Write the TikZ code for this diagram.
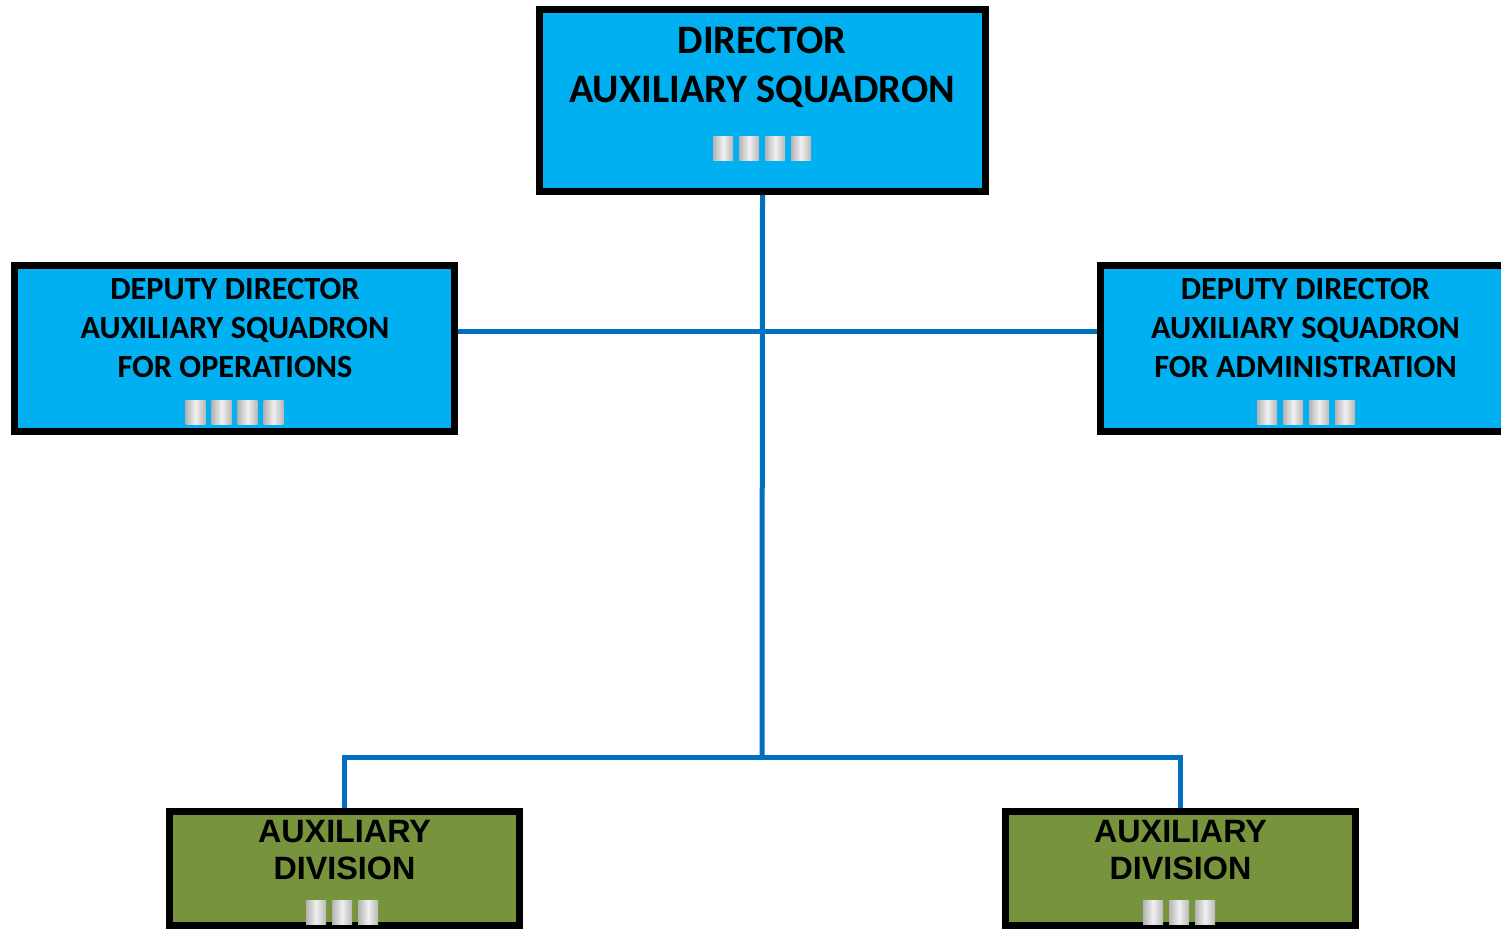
\documentclass[tikz,border=0pt]{standalone}
\usepackage{fontspec}
\setmainfont{Carlito}
\newfontfamily\arialfont{Liberation Sans}
\usepackage{xcolor}
\usetikzlibrary{positioning, calc}

\definecolor{boxblue}{HTML}{00B0F0}
\definecolor{boxgreen}{HTML}{77933C}
\definecolor{linkblue}{HTML}{0070C0}

\tikzset{
  office/.style={draw=black, line width=7pt, fill=boxblue, minimum width=#1, minimum height=166pt, inner sep=0pt},
  division/.style={draw=black, line width=7pt, fill=boxgreen, minimum width=350pt, minimum height=114pt, inner sep=0pt},
  link/.style={draw=linkblue, line width=5pt},
  barshade/.style={left color=black!30, right color=black!28, middle color=black!6}
}

% silver rank bars: #1 count, #2 centre x, #3 centre y
\newcommand{\rankbars}[3]{%
  \pgfmathsetmacro{\startx}{#2-(#1*26-6)/2}
  \foreach \i in {1,...,#1} {
    \pgfmathsetmacro{\bx}{\startx+(\i-1)*26}
    \shade[barshade] (\bx,#3-12) rectangle ++(20,24);
  }
}

\begin{document}
\begin{tikzpicture}[x=1pt, y=-1pt]
\useasboundingbox (0,0) rectangle (1501,929);

% Director
\node[office=446pt, minimum height=182pt] (director) at (762.5,100.5) {};
\node[font=\bfseries\fontsize{40.4}{49}\selectfont, align=center] (directortxt) at (762,67) {DIRECTOR\\AUXILIARY SQUADRON};
\rankbars{4}{762}{148}

% Deputies
\node[office=440pt] (depops) at (234,348) {};
\node[font=\bfseries\fontsize{32.3}{39}\selectfont, align=center] (depopstxt) at (235,328) {DEPUTY DIRECTOR\\AUXILIARY SQUADRON\\FOR OPERATIONS};
\rankbars{4}{234.5}{412}

\node[office=420pt] (depadmin) at (1310,348) {};
\node[font=\bfseries\fontsize{32.3}{39}\selectfont, align=center] (depadmintxt) at (1305.5,328) {DEPUTY DIRECTOR\\AUXILIARY SQUADRON\\FOR ADMINISTRATION};
\rankbars{4}{1306}{412}

% Divisions
\node[division] (divleft) at (344.5,868.5) {};
\node[font=\arialfont\bfseries\fontsize{32.3}{37}\selectfont, align=center] (divlefttxt) at (344.5,850.5) {AUXILIARY\\DIVISION};
\rankbars{3}{342}{912}

\node[division] (divright) at (1180.5,868.5) {};
\node[font=\arialfont\bfseries\fontsize{32.3}{37}\selectfont, align=center] (divrighttxt) at (1180.5,850.5) {AUXILIARY\\DIVISION};
\rankbars{3}{1179}{912}

% Connectors
\coordinate (hub) at (762,331);
\coordinate (junction) at (762,757);
\draw[link] (director.south) -- (junction);
\draw[link] (depops.east |- hub) -- (depadmin.west |- hub);
\draw[link, line join=miter] (divleft.north) -- (divleft.north |- junction) -- (divright.north |- junction) -- (divright.north);
\end{tikzpicture}
\end{document}
